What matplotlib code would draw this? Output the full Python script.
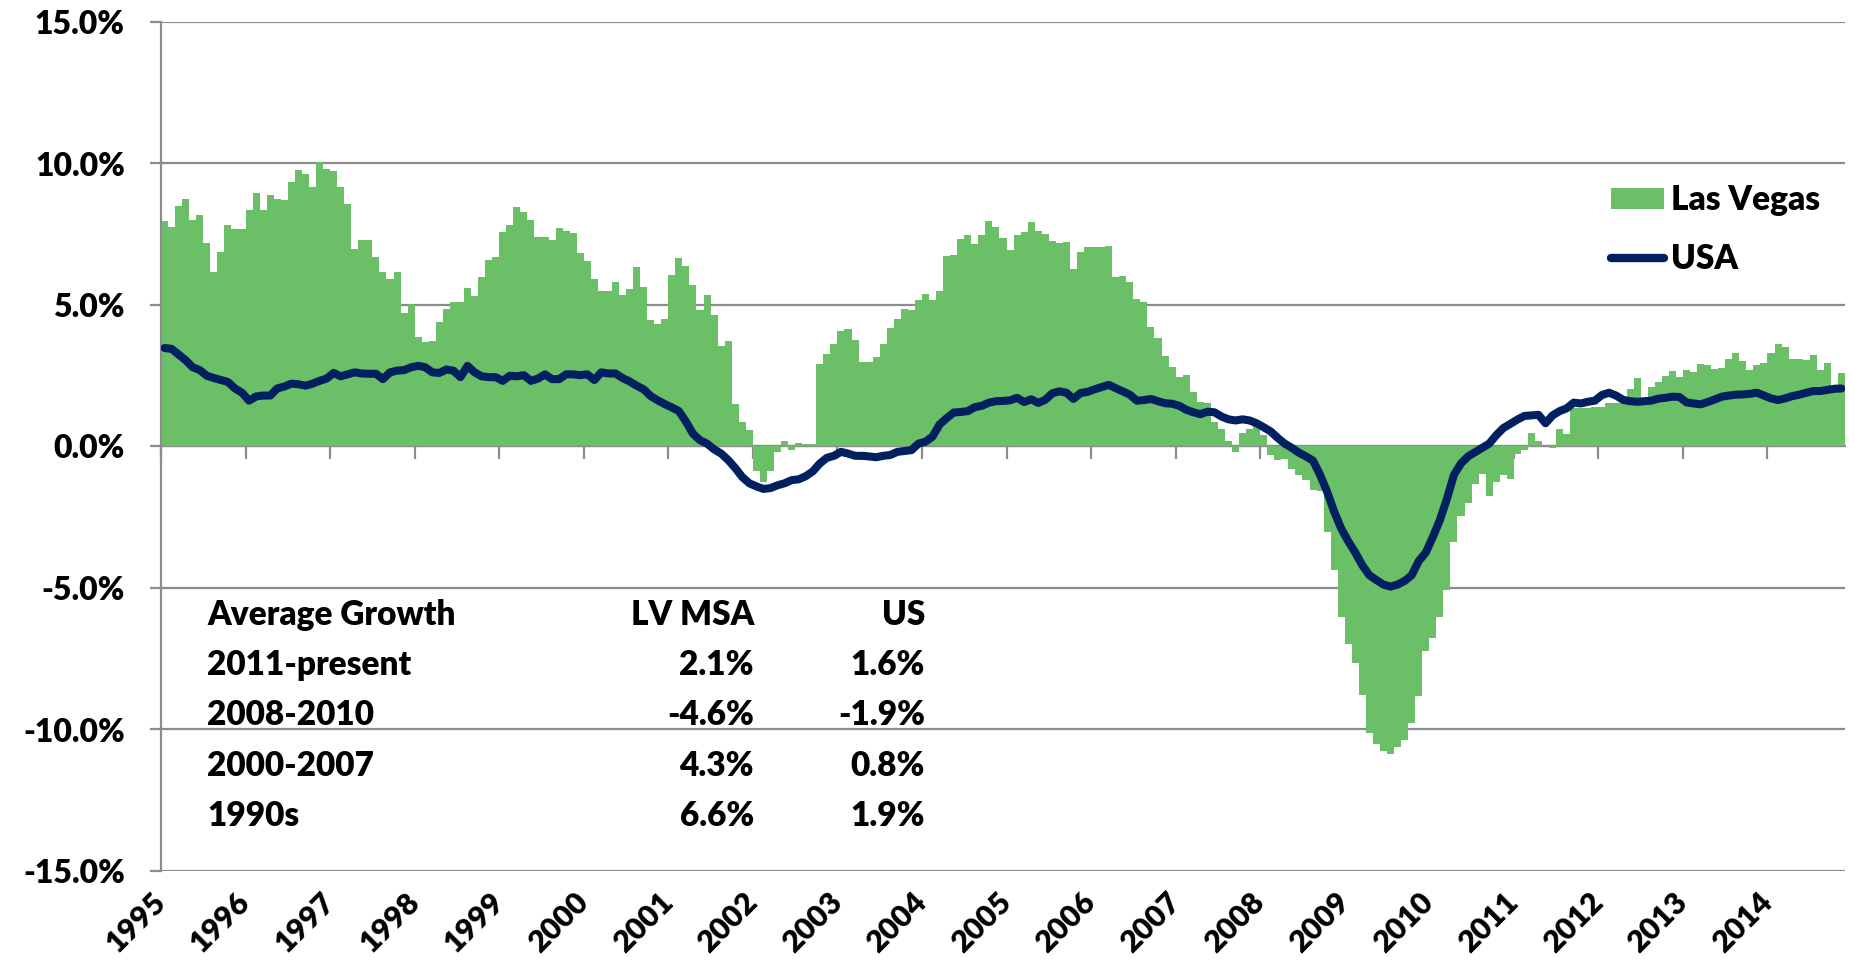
import matplotlib
matplotlib.use("Agg")
import matplotlib.pyplot as plt
import numpy as np
from matplotlib.ticker import FuncFormatter
from matplotlib.patches import Patch
from matplotlib.lines import Line2D

plt.rcParams['font.family'] = ['Lato', 'DejaVu Sans']
WEIGHT = 'heavy'
plt.rcParams['font.weight'] = WEIGHT

# ---------------- data ----------------
years = [str(y) for y in range(1995, 2015)]

las_vegas = [
    7.98, 7.75, 8.51, 8.76, 8.00, 8.18, 7.18, 6.17, 6.86, 7.81, 7.67, 7.70,      # 1995
    8.37, 8.94, 8.35, 8.90, 8.73, 8.71, 9.33, 9.78, 9.62, 9.17, 10.05, 9.82,     # 1996
    9.72, 9.17, 8.58, 6.99, 7.31, 7.31, 6.69, 6.18, 5.92, 6.17, 4.72, 5.04,      # 1997
    3.86, 3.71, 3.74, 4.39, 4.87, 5.11, 5.11, 5.60, 5.31, 5.98, 6.59, 6.71,      # 1998
    7.57, 7.84, 8.46, 8.29, 8.00, 7.42, 7.39, 7.31, 7.71, 7.63, 7.55, 6.82,      # 1999
    6.56, 5.93, 5.50, 5.50, 5.81, 5.37, 5.57, 6.34, 5.64, 4.48, 4.34, 4.52,      # 2000
    6.07, 6.65, 6.37, 5.70, 4.81, 5.34, 4.66, 3.54, 3.74, 1.50, 0.88, 0.59,      # 2001
    -0.86, -1.24, -0.86, -0.18, 0.21, -0.14, 0.12, 0.09, 0.08, 2.91, 3.28, 3.63, # 2002
    4.07, 4.15, 3.75, 2.97, 2.98, 3.16, 3.63, 4.17, 4.50, 4.86, 4.83, 5.19,      # 2003
    5.40, 5.17, 5.51, 6.72, 6.78, 7.33, 7.48, 7.16, 7.49, 7.97, 7.75, 7.37,      # 2004
    6.96, 7.48, 7.58, 7.94, 7.63, 7.52, 7.25, 7.18, 7.22, 6.27, 6.89, 7.05,      # 2005
    7.04, 7.05, 7.09, 6.00, 6.03, 5.81, 5.22, 5.10, 4.21, 3.82, 3.20, 2.80,      # 2006
    2.47, 2.53, 1.92, 1.59, 1.53, 0.88, 0.61, 0.20, -0.18, 0.49, 0.61, 0.71,     # 2007
    0.41, -0.29, -0.47, -0.44, -0.80, -1.00, -1.20, -1.53, -1.59, -3.03, -4.36, -6.01,   # 2008
    -6.98, -7.64, -8.79, -10.14, -10.53, -10.77, -10.88, -10.61, -10.38, -9.76, -8.82, -7.23,  # 2009
    -6.78, -6.01, -5.07, -3.36, -2.47, -1.98, -1.32, -0.96, -1.74, -1.27, -1.00, -1.15,  # 2010
    -0.26, -0.14, 0.47, 0.18, 0.03, -0.05, 0.62, 0.45, 1.35, 1.35, 1.35, 1.38,   # 2011
    1.41, 1.53, 1.53, 1.67, 2.02, 2.41, 1.60, 2.11, 2.27, 2.50, 2.67, 2.46,      # 2012
    2.70, 2.63, 2.92, 2.88, 2.75, 2.76, 3.08, 3.31, 3.02, 2.72, 2.89, 2.94,      # 2013
    3.31, 3.63, 3.51, 3.08, 3.10, 3.05, 3.25, 2.70, 2.95, 2.13, 2.61,            # 2014
]

usa = [
    3.48, 3.45, 3.25, 3.05, 2.80, 2.70, 2.50, 2.42, 2.35, 2.28, 2.05, 1.90,      # 1995
    1.62, 1.77, 1.80, 1.80, 2.05, 2.12, 2.22, 2.20, 2.15, 2.22, 2.32, 2.40,      # 1996
    2.60, 2.48, 2.55, 2.62, 2.58, 2.57, 2.57, 2.38, 2.62, 2.68, 2.70, 2.80,      # 1997
    2.85, 2.80, 2.62, 2.60, 2.72, 2.68, 2.45, 2.85, 2.62, 2.48, 2.45, 2.45,      # 1998
    2.32, 2.50, 2.48, 2.52, 2.32, 2.40, 2.55, 2.38, 2.38, 2.55, 2.55, 2.52,      # 1999
    2.55, 2.35, 2.62, 2.58, 2.58, 2.42, 2.30, 2.15, 2.02, 1.78, 1.63, 1.50,      # 2000
    1.38, 1.25, 0.88, 0.45, 0.22, 0.10, -0.10, -0.25, -0.48, -0.76, -1.08, -1.30,  # 2001
    -1.41, -1.50, -1.47, -1.37, -1.30, -1.19, -1.16, -1.05, -0.88, -0.60, -0.40, -0.33,  # 2002
    -0.19, -0.25, -0.33, -0.33, -0.35, -0.38, -0.33, -0.30, -0.19, -0.16, -0.13, 0.10,  # 2003
    0.17, 0.35, 0.78, 1.00, 1.20, 1.22, 1.25, 1.39, 1.44, 1.55, 1.60, 1.61,      # 2004
    1.63, 1.72, 1.57, 1.67, 1.54, 1.65, 1.88, 1.95, 1.90, 1.68, 1.89, 1.93,      # 2005
    2.02, 2.10, 2.18, 2.06, 1.95, 1.83, 1.62, 1.64, 1.68, 1.60, 1.53, 1.51,      # 2006
    1.44, 1.30, 1.21, 1.14, 1.23, 1.21, 1.06, 0.96, 0.92, 0.96, 0.92, 0.82,      # 2007
    0.68, 0.53, 0.30, 0.10, -0.05, -0.22, -0.35, -0.50, -1.00, -1.60, -2.30, -2.90,  # 2008
    -3.35, -3.75, -4.20, -4.55, -4.72, -4.88, -4.95, -4.88, -4.75, -4.55, -4.05, -3.75,  # 2009
    -3.20, -2.60, -1.85, -1.00, -0.60, -0.35, -0.20, -0.05, 0.10, 0.40, 0.65, 0.80,  # 2010
    0.95, 1.08, 1.10, 1.12, 0.82, 1.10, 1.25, 1.35, 1.55, 1.52, 1.58, 1.62,      # 2011
    1.82, 1.90, 1.80, 1.65, 1.60, 1.58, 1.60, 1.62, 1.69, 1.72, 1.76, 1.75,      # 2012
    1.56, 1.52, 1.49, 1.57, 1.66, 1.76, 1.80, 1.83, 1.84, 1.86, 1.90, 1.80,      # 2013
    1.70, 1.64, 1.70, 1.78, 1.83, 1.90, 1.96, 1.96, 2.00, 2.04, 2.05,            # 2014
]

series_names = ['Las Vegas', 'USA']

table_periods = ['Average Growth', '2011-present', '2008-2010', '2000-2007', '1990s']
table_lv = ['LV MSA', '2.1%', '-4.6%', '4.3%', '6.6%']
table_us = ['US', '1.6%', '-1.9%', '0.8%', '1.9%']

# ---------------- style ----------------
GREEN = '#6BBF66'
NAVY = '#002060'
GRID = '#8C8C8C'
W, H = 1855, 972
FS = 24

fig = plt.figure(figsize=(W / 100, H / 100), dpi=100)
ax = fig.add_axes([161 / W, 1 - 871 / H, (1845 - 161) / W, (871 - 22) / H])

n = len(las_vegas)
x = np.arange(n)
ax.bar(x, las_vegas, width=1.0, align='edge', color=GREEN, linewidth=0, zorder=2)
ax.plot(x + 0.5, usa, color=NAVY, lw=5.8, solid_joinstyle='round',
        solid_capstyle='round', zorder=3)

ax.set_xlim(0, n)
ax.set_ylim(-15, 15)
ax.set_yticks(np.arange(-15, 15.1, 5))
ax.yaxis.set_major_formatter(FuncFormatter(lambda v, p: f'{v:.1f}%'))
ax.set_axisbelow(True)
ax.grid(axis='y', color=GRID, lw=1.6, zorder=0)
ax.grid(axis='x', visible=False)

for s in ['top', 'right', 'bottom']:
    ax.spines[s].set_visible(False)
ax.spines['left'].set_color(GRID)
ax.spines['left'].set_linewidth(1.6)

ax.tick_params(axis='y', direction='out', length=8, width=1.6, color=GRID,
               labelsize=23, pad=18)

year_pos = [12 * i for i in range(len(years))]
ax.set_xticks(year_pos)
ax.set_xticklabels(years, rotation=45, ha='right', va='center',
                   rotation_mode='anchor', fontsize=22, fontweight=WEIGHT)
ax.tick_params(axis='x', length=0, pad=19)
for lab in ax.get_yticklabels():
    lab.set_fontweight(WEIGHT)

# category axis crossing at 0 with tick marks
sec = ax.secondary_xaxis(0.5)
sec.set_xticks(year_pos, labels=[''] * len(year_pos))
sec.xaxis.set_ticks_position('bottom')
sec.tick_params(axis='x', which='both', direction='out', length=9, width=1.6,
                color=GRID, top=False, bottom=True, labeltop=False, labelbottom=False)
for s in sec.spines.values():
    s.set_color(GRID)
    s.set_linewidth(1.6)

# legend
handles = [Patch(facecolor=GREEN, edgecolor='none'),
           Line2D([0], [0], color=NAVY, lw=6, solid_capstyle='round')]
leg = ax.legend(handles, series_names, loc='upper left',
                bbox_to_anchor=(1611 / W, 1 - 184 / H), bbox_transform=fig.transFigure,
                frameon=False, fontsize=FS, handlelength=1.6, handleheight=0.58,
                handletextpad=0.2, labelspacing=0.8, borderpad=0, borderaxespad=0)
for t in leg.get_texts():
    t.set_fontweight(WEIGHT)

# growth table
row_y = [615, 665, 715, 766, 816]
for i in range(len(table_periods)):
    yy = 1 - row_y[i] / H
    fig.text(207 / W, yy, table_periods[i], ha='left', va='center',
             fontsize=FS, fontweight=WEIGHT)
    fig.text(754 / W, yy, table_lv[i], ha='right', va='center',
             fontsize=FS, fontweight=WEIGHT)
    fig.text(925 / W, yy, table_us[i], ha='right', va='center',
             fontsize=FS, fontweight=WEIGHT)

fig.savefig('out.png', dpi=100)
